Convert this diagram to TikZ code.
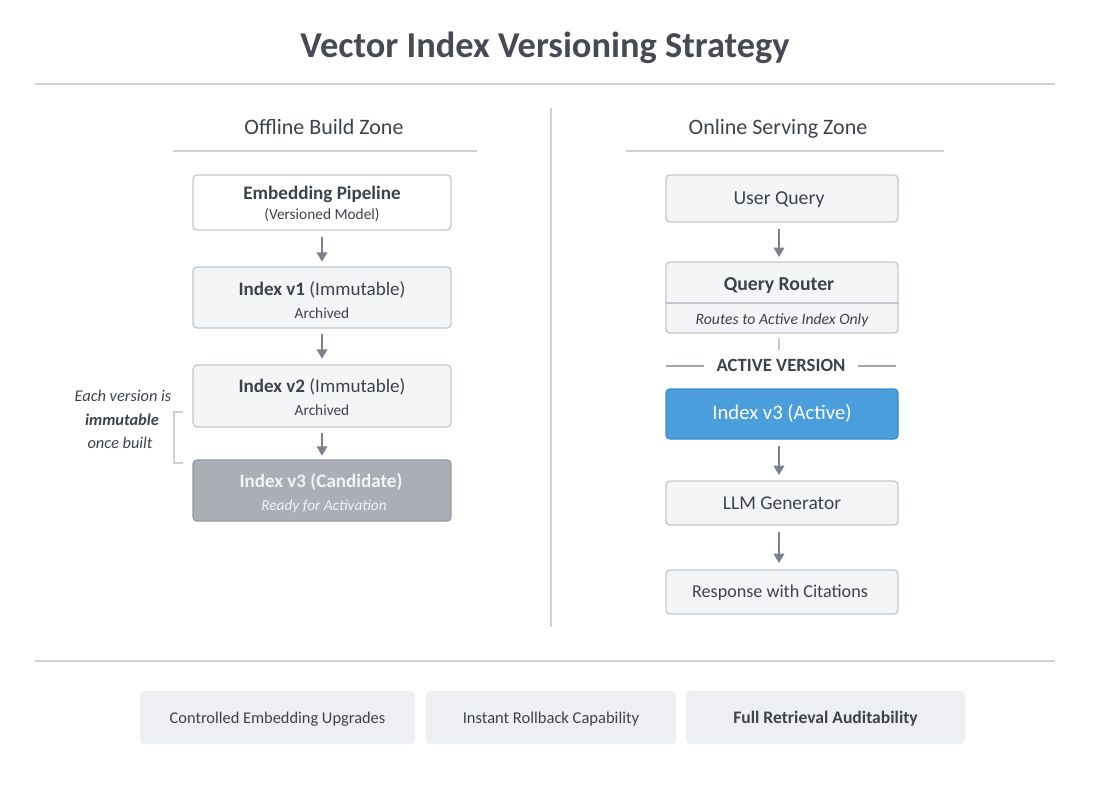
\documentclass[tikz,border=0pt]{standalone}
\usepackage{fontspec}
\setmainfont{Carlito}
\usetikzlibrary{arrows.meta}
\definecolor{txt}{HTML}{3E424B}
\definecolor{ttl}{HTML}{474A52}
\definecolor{bord}{HTML}{C4C8CE}
\definecolor{rule}{HTML}{CDD0D5}
\definecolor{arr}{HTML}{7C828B}
\definecolor{boxf}{HTML}{F4F5F7}
\definecolor{candf}{HTML}{ABAFB5}
\definecolor{candt}{HTML}{F2F3F5}
\definecolor{actf}{HTML}{4A9EDB}
\definecolor{actb}{HTML}{3A8BC8}
\definecolor{featf}{HTML}{EEEFF2}
\tikzset{
  box/.style={draw=bord, line width=1pt, fill=boxf, rounded corners=3pt, inner sep=0pt},
  cand/.style={draw=candf!88!black, line width=1pt, fill=candf, rounded corners=3pt, inner sep=0pt},
  act/.style={draw=actb, line width=1pt, fill=actf, rounded corners=3pt, inner sep=0pt},
  feat/.style={fill=featf, rounded corners=3pt, inner sep=0pt},
  flow/.style={draw=arr, line width=1.1pt, -{Triangle[length=7pt,width=8pt]}},
  sep/.style={draw=rule, line width=1pt},
  lbl/.style={text=txt, inner sep=0pt, anchor=base}
}
\begin{document}
\begin{tikzpicture}[x=0.75pt,y=-0.75pt]
\useasboundingbox[fill=white] (0,0) rectangle (1104,793);
% title
\node[lbl, text=ttl, font=\fontsize{27.3}{30}\selectfont\bfseries] (title) at (545,57) {Vector Index Versioning Strategy};
\draw[sep] (35,84) -- (1055,84);
\draw[sep] (551,108) -- (551,627);
% zone headings
\node[lbl, font=\fontsize{16.5}{19}\selectfont] (offz) at (324,134) {Offline Build Zone};
\draw[sep] (173,151) -- (477,151);
\node[lbl, font=\fontsize{16.5}{19}\selectfont] (onz) at (778,134) {Online Serving Zone};
\draw[sep] (626,151) -- (944,151);

% left column
\node[box, fill=white, minimum width=258*0.75pt, minimum height=55*0.75pt] (emb) at (322,202.5) {};
\node[lbl, font=\fontsize{14.3}{17}\selectfont\bfseries] at (322,199) {Embedding Pipeline};
\node[lbl, font=\fontsize{11.5}{13}\selectfont] at (322,219) {(Versioned Model)};

\node[box, minimum width=258*0.75pt, minimum height=61*0.75pt] (v1) at (322,297.5) {};
\node[lbl, font=\fontsize{14.3}{17}\selectfont] at (322,295) {\textbf{Index v1} (Immutable)};
\node[lbl, font=\fontsize{11.5}{13}\selectfont] at (322,318) {Archived};

\node[box, minimum width=258*0.75pt, minimum height=62*0.75pt] (v2) at (322,396) {};
\node[lbl, font=\fontsize{14.3}{17}\selectfont] at (322,392) {\textbf{Index v2} (Immutable)};
\node[lbl, font=\fontsize{11.5}{13}\selectfont] at (322,415) {Archived};

\node[cand, minimum width=258*0.75pt, minimum height=61*0.75pt] (v3c) at (322,490.5) {};
\node[lbl, text=candt, font=\fontsize{14.3}{17}\selectfont\bfseries] at (321,487) {Index v3 (Candidate)};
\node[lbl, text=candt, font=\fontsize{11.5}{13}\selectfont\itshape] at (324,510) {Ready for Activation};

\draw[flow] (emb.south) ++(0,6) coordinate (a1s) (a1s) -- ++(0,25);
\draw[flow] (v1.south) ++(0,5) -- ++(0,25);
\draw[flow] (v2.south) ++(0,5) -- ++(0,23);

% annotation
\node[lbl, font=\fontsize{12.3}{14}\selectfont\itshape] (n1) at (123,401) {Each version is};
\node[lbl, font=\fontsize{12.3}{14}\selectfont\itshape\bfseries] (n2) at (122,425) {immutable};
\node[lbl, font=\fontsize{12.3}{14}\selectfont\itshape] (n3) at (120,448) {once built};
\draw[draw=rule, line width=1pt] (183,412) -- (174,412) -- (174,463) -- (183,463);

% right column
\node[box, minimum width=232*0.75pt, minimum height=47*0.75pt] (uq) at (782,198.5) {};
\node[lbl, font=\fontsize{14.8}{17}\selectfont] at (779,204) {User Query};

\node[box, minimum width=232*0.75pt, minimum height=71*0.75pt] (qr) at (782,297.5) {};
\draw[draw=bord, line width=1pt] (qr.west |- 0,303) -- (qr.east |- 0,303);
\node[lbl, font=\fontsize{14.8}{17}\selectfont\bfseries] at (779,290) {Query Router};
\node[lbl, font=\fontsize{11.8}{14}\selectfont\itshape] at (782,324) {Routes to Active Index Only};

\draw[draw=bord, line width=1pt] (qr.south -| 779,0) ++(0,4) coordinate (qs) (qs) -- ++(0,12);

\node[lbl, font=\fontsize{14}{16}\selectfont\bfseries] (actl) at (781,371) {ACTIVE VERSION};
\draw[draw=arr!70, line width=1pt] (666,366) -- (704,366);
\draw[draw=arr!70, line width=1pt] (858,366) -- (896,366);

\node[act, minimum width=232*0.75pt, minimum height=50*0.75pt] (v3a) at (782,414) {};
\node[lbl, text=white, font=\fontsize{15.5}{18}\selectfont] at (782,419) {Index v3 (Active)};

\node[box, minimum width=232*0.75pt, minimum height=44*0.75pt] (llm) at (782,503) {};
\node[lbl, font=\fontsize{14.6}{17}\selectfont] at (782,509) {LLM Generator};

\node[box, minimum width=232*0.75pt, minimum height=44*0.75pt] (resp) at (782,592) {};
\node[lbl, font=\fontsize{13.6}{16}\selectfont] at (780,597) {Response with Citations};

\draw[flow] (779,229) -- (779,257);
\draw[flow] (779,446) -- (779,475);
\draw[flow] (779,532) -- (779,563);

% bottom
\draw[sep] (35,661) -- (1055,661);
\node[feat, minimum width=275*0.75pt, minimum height=53*0.75pt] (f1) at (277.5,717.5) {};
\node[lbl, font=\fontsize{12.3}{14}\selectfont] at (f1.center) [yshift=-4.5pt] {Controlled Embedding Upgrades};
\node[feat, minimum width=250*0.75pt, minimum height=53*0.75pt] (f2) at (551,717.5) {};
\node[lbl, font=\fontsize{12.4}{14}\selectfont] at (f2.center) [yshift=-4.5pt] {Instant Rollback Capability};
\node[feat, minimum width=279*0.75pt, minimum height=53*0.75pt] (f3) at (825.5,717.5) {};
\node[lbl, font=\fontsize{13.2}{16}\selectfont\bfseries] at (f3.center) [yshift=-4.7pt] {Full Retrieval Auditability};
\end{tikzpicture}
\end{document}
